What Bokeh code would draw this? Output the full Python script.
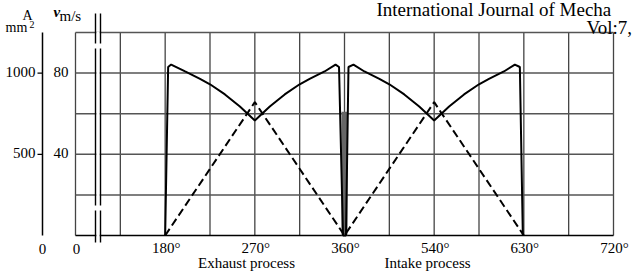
from bokeh.plotting import figure
from bokeh.models import Range1d
from bokeh.core.properties import value
from bokeh.embed import file_html
from bokeh.resources import INLINE

# ---------------- data ----------------
# crank angle (deg) and gas velocity v (m/s) - solid curve
v_deg = [180, 183, 186, 200, 215, 225, 240, 255, 270, 285, 300, 315, 325, 340, 351, 354.5, 358.5,
         360, 361.5, 364, 369, 380, 395, 405, 420, 435, 450, 465, 480, 495, 505, 520, 531, 536, 539]
v_val = [0, 83, 84.2, 80.8, 77.2, 74.5, 69.5, 63.5, 56.6, 63.5, 69.5, 74.5, 77.2, 80.8, 84.2, 83, 0,
         0, 0, 83, 84.2, 80.8, 77.2, 74.5, 69.5, 63.5, 56.6, 63.5, 69.5, 74.5, 77.2, 80.8, 84.2, 83, 0]
# valve flow area A (mm^2) - dashed curve
a_deg = [180, 270, 360, 450, 540]
a_val = [0, 821, 0, 821, 0]
# valve overlap at TDC (dense lines)
ov_deg = [360, 360]
ov_val = [0, 61]

x_grid = [90, 135, 180, 225, 270, 315, 360, 405, 450, 495, 540, 585, 630]
v_grid = [20, 40, 60, 80, 100]
x_ticks = [180, 270, 360, 450, 540, 630]
x_tick_labels = ["180°", "270°", "360°", "540°", "630°", "720°"]
v_ticks = [40, 80]
a_ticks = [500, 1000]

FONT = "Liberation Serif"

# page placement of the figure and pixel anchors of the chart frame
OFF_X, OFF_Y, W, H = 0, 0, 633, 276
TXT_SHIFT = 0.36  # baseline correction, fraction of font size


def x_at(px):
    return 90 + (px - 75) * 540 / 538


def v_at(py):
    return (235 - py) * 100 / 203


A_PER_V = 12.5

p = figure(width=W, height=H, output_backend="svg", toolbar_location=None,
           x_range=Range1d(x_at(OFF_X), x_at(OFF_X + W)),
           y_range=Range1d(v_at(OFF_Y + H), v_at(OFF_Y)),
           x_axis_type=None, y_axis_type=None, min_border=0)
p.extra_y_ranges = {"A": Range1d(v_at(OFF_Y + H) * A_PER_V, v_at(OFF_Y) * A_PER_V)}
p.outline_line_color = None
p.background_fill_color = "white"
p.border_fill_color = "white"
p.grid.visible = False

# grid
p.segment(x0=x_grid, y0=[0] * len(x_grid), x1=x_grid, y1=[100] * len(x_grid),
          line_color="#444444", line_width=1.3)
p.segment(x0=[90] * len(v_grid), y0=v_grid, x1=[630] * len(v_grid), y1=v_grid,
          line_color="#555555", line_width=1.5)
p.segment(x0=[90], y0=[0], x1=[630], y1=[0], line_color="black", line_width=1.6)

# valve area axis (A, mm^2)
p.segment(x0=[x_at(42)], y0=[0], x1=[x_at(42)], y1=[1250], y_range_name="A",
          line_color="black", line_width=1.5)
p.segment(x0=[x_at(37)] * len(a_ticks), y0=a_ticks, x1=[x_at(42)] * len(a_ticks), y1=a_ticks,
          y_range_name="A", line_color="black", line_width=1.2)

# curves
p.line(ov_deg, ov_val, line_color="#666666", line_width=6)
p.line(a_deg, a_val, y_range_name="A", line_color="black", line_width=2, line_dash="8 4")
p.line(v_deg, v_val, line_color="black", line_width=2)

# axis break marks
p.quad(left=[x_at(95.8)], right=[x_at(99.2)], top=[v_at(31)], bottom=[v_at(237)],
       fill_color="white", line_color=None)
brk_x = [95, 95, 95, 100, 100, 100]
brk_top = [13, 48, 210, 13, 48, 210]
brk_bot = [43, 205, 242, 43, 205, 242]
p.segment(x0=[x_at(b) for b in brk_x], y0=[v_at(b) for b in brk_top],
          x1=[x_at(b) for b in brk_x], y1=[v_at(b) for b in brk_bot],
          line_color="black", line_width=1.4)

# tick labels
NS = 15
NUM = dict(text_font=value(FONT), text_font_size=value(f"{NS}px"), text_color="black",
           text_baseline="alphabetic")
sh = TXT_SHIFT * NS
p.text(x=[t + 1 for t in x_ticks], y=[v_at(253 - sh)] * len(x_ticks), text=x_tick_labels,
       text_align="center", **NUM)
p.text(x=[x_at(68)] * len(v_ticks), y=[t - (4.5 - sh) * 100 / 203 for t in v_ticks],
       text=[str(t) for t in v_ticks], text_align="right", **NUM)
p.text(x=[x_at(35)] * len(a_ticks), y=[t - (4.5 - sh) * 1250 / 203 for t in a_ticks],
       text=[str(t) for t in a_ticks], text_align="right", y_range_name="A", **NUM)
p.text(x=[x_at(42), x_at(76)], y=[v_at(254 - sh)] * 2, text=["0", "0"], text_align="center", **NUM)


def lab(text, px, py, size, align="left", style="normal"):
    p.text(x=[x_at(px)], y=[v_at(py - TXT_SHIFT * size)], text=[text], text_font=value(FONT),
           text_font_size=value(f"{size}px"), text_align=align, text_baseline="alphabetic",
           text_font_style=style, text_color="black")


lab("A", 27, 20, 14, "center")
lab("mm", 16, 32, 14, "center")
lab("2", 31.5, 28, 10, "center")
lab("v", 53, 17, 15, "left", "bold italic")
lab("m/s", 59, 21, 15, "left")
lab("Exhaust process", 246, 268, 15, "center")
lab("Intake process", 427, 268, 15, "center")
lab("International Journal of Mecha", 376, 16, 19, "left")
lab("Vol:7,", 586, 34, 19, "left")

open("out.html", "w").write(file_html(p, INLINE))
